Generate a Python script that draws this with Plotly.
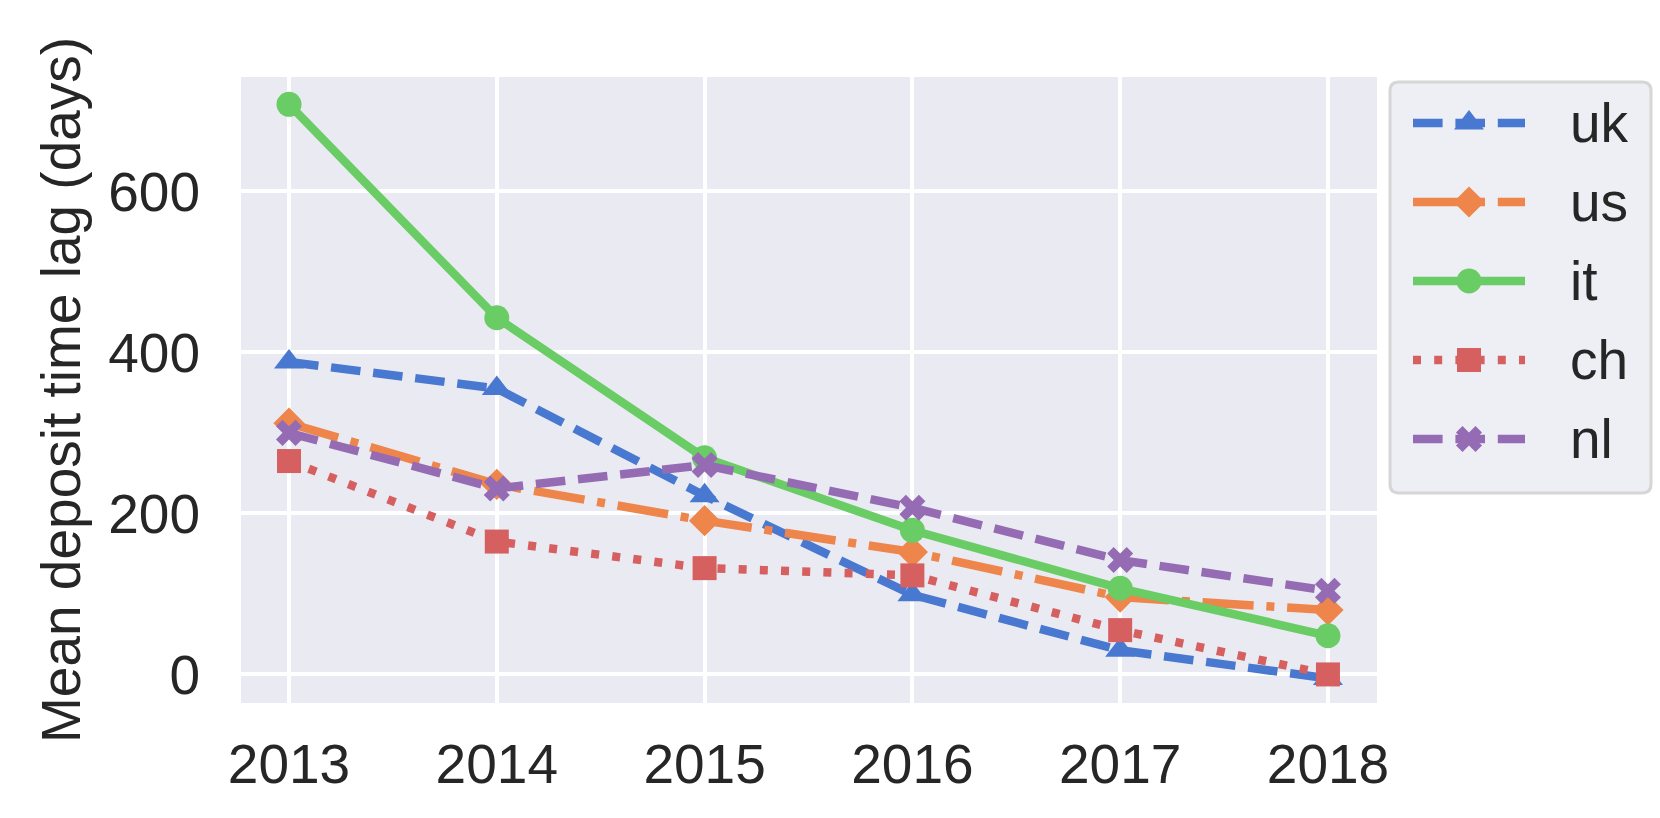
import plotly.graph_objects as go

# ---------------- data ----------------
years = [2013, 2014, 2015, 2016, 2017, 2018]
year_labels = ["2013", "2014", "2015", "2016", "2017", "2018"]
countries = ["uk", "us", "it", "ch", "nl"]
uk = [388, 355, 222, 99, 30, -5]
us = [312, 236, 191, 152, 96, 80]
it = [708, 443, 269, 179, 107, 48]
ch = [265, 165, 132, 123, 55, 0]
nl = [300, 231, 260, 207, 142, 104]
y_ticks = [0, 200, 400, 600]
y_title = "Mean deposit time lag (days)"

series = {"uk": uk, "us": us, "it": it, "ch": ch, "nl": nl}

# ---------------- styles ----------------
LW = 8.5      # drawn line width
PL = 8.0      # dash pattern unit
colors = {"uk": "#4878d0", "us": "#ee854a", "it": "#6acc64", "ch": "#d65f5f", "nl": "#956cb4"}
dashes = {
    "uk": f"{3.7*PL}px,{1.6*PL}px",
    "us": f"{6.4*PL}px,{1.6*PL}px,{1.0*PL}px,{1.6*PL}px",
    "it": "solid",
    "ch": f"{1.0*PL}px,{1.65*PL}px",
    "nl": f"{3.7*PL}px,{1.6*PL}px",
}
symbols = {"uk": "triangle-up", "us": "diamond", "it": "circle", "ch": "square", "nl": "x"}
msizes = {"uk": 26, "us": 24, "it": 25, "ch": 24, "nl": 23}

FONT = "Liberation Sans, Arial, sans-serif"
TXT = "#262626"
FS = 55

W, H = 1660, 818
ML, MR, MT, MB = 241, 9, 77, 115
PW = W - ML - MR      # paper width in px
PH = H - MT - MB      # paper height in px
PLOT_RIGHT = 1377     # right edge of main axes (px)


def px_x(p):
    return (p - ML) / PW


def px_y(p):
    return (H - MB - p) / PH


fig = go.Figure()

for c in countries:
    fig.add_trace(go.Scatter(
        x=years, y=series[c], name=c, mode="lines+markers",
        line=dict(color=colors[c], width=LW, dash=dashes[c]),
        marker=dict(symbol=symbols[c], size=msizes[c], color=colors[c], line=dict(width=0)),
        cliponaxis=False, showlegend=False,
        xaxis="x", yaxis="y",
    ))

# ---------------- custom legend (own axes, px units) ----------------
LEG_BOX = (1390, 82, 1651, 493)        # left, top, right, bottom
LEG_AX = (1400, 92, 1640, 483)
leg_top, leg_step = 123, 79
handle_x0, handle_x1 = 1413, 1525
text_x = 1568

for i, c in enumerate(countries):
    yy = leg_top + i * leg_step
    fig.add_trace(go.Scatter(
        x=[handle_x0, handle_x1], y=[yy, yy], mode="lines",
        line=dict(color=colors[c], width=LW, dash=dashes[c]),
        showlegend=False, hoverinfo="skip", cliponaxis=False,
        xaxis="x2", yaxis="y2",
    ))
    fig.add_trace(go.Scatter(
        x=[(handle_x0 + handle_x1) / 2], y=[yy], mode="markers",
        marker=dict(symbol=symbols[c], size=msizes[c], color=colors[c], line=dict(width=0)),
        showlegend=False, hoverinfo="skip", cliponaxis=False,
        xaxis="x2", yaxis="y2",
    ))
    fig.add_annotation(
        x=text_x, y=yy, xref="x2", yref="y2", text=c, showarrow=False,
        xanchor="left", yanchor="middle",
        font=dict(family=FONT, size=FS, color=TXT),
    )

# rounded legend frame (paper coords)
bx0, by0, bx1, by1 = px_x(LEG_BOX[0]), px_y(LEG_BOX[3]), px_x(LEG_BOX[2]), px_y(LEG_BOX[1])
rx, ry = 9 / PW, 9 / PH
path = (
    f"M {bx0+rx},{by0} L {bx1-rx},{by0} Q {bx1},{by0} {bx1},{by0+ry} "
    f"L {bx1},{by1-ry} Q {bx1},{by1} {bx1-rx},{by1} "
    f"L {bx0+rx},{by1} Q {bx0},{by1} {bx0},{by1-ry} "
    f"L {bx0},{by0+ry} Q {bx0},{by0} {bx0+rx},{by0} Z"
)
fig.add_shape(type="path", path=path, xref="paper", yref="paper",
              fillcolor="#eeeef5", line=dict(color="#d6d6d6", width=3), layer="below")

# y-axis title
fig.add_annotation(
    x=px_x(61), y=0.5, xref="paper", yref="paper", text=y_title, showarrow=False,
    textangle=-90, xanchor="center", yanchor="middle",
    font=dict(family=FONT, size=FS, color=TXT),
)

fig.update_layout(
    width=W, height=H, autosize=False,
    margin=dict(l=ML, r=MR, t=MT, b=MB, pad=0, autoexpand=False),
    paper_bgcolor="white", plot_bgcolor="#eaeaf2",
    font=dict(family=FONT, size=FS, color=TXT),
    showlegend=False,
    xaxis=dict(
        domain=[0, px_x(PLOT_RIGHT)], range=[2012.769, 2018.236],
        tickvals=years, ticktext=year_labels, automargin=False,
        showgrid=True, gridcolor="white", gridwidth=3.5, zeroline=False,
        ticks="outside", ticklen=13, tickcolor="rgba(0,0,0,0)",
        tickfont=dict(family=FONT, size=FS, color=TXT), showline=False,
    ),
    yaxis=dict(
        domain=[0, 1], range=[-35.5, 742],
        tickvals=y_ticks, ticktext=[str(v) for v in y_ticks], automargin=False,
        showgrid=True, gridcolor="white", gridwidth=3.5, zeroline=False,
        ticks="outside", ticklen=29, tickcolor="rgba(0,0,0,0)",
        tickfont=dict(family=FONT, size=FS, color=TXT), showline=False,
    ),
    xaxis2=dict(
        domain=[px_x(LEG_AX[0]), px_x(LEG_AX[2])], range=[LEG_AX[0], LEG_AX[2]],
        visible=False, anchor="y2", fixedrange=True, automargin=False,
    ),
    yaxis2=dict(
        domain=[px_y(LEG_AX[3]), px_y(LEG_AX[1])], range=[LEG_AX[3], LEG_AX[1]],
        visible=False, anchor="x2", fixedrange=True, automargin=False,
    ),
)

fig.write_html(
    "out.html",
    config={"displayModeBar": False},
    post_script="document.body.style.margin='0';document.body.style.padding='0';"
                "document.body.style.overflow='hidden';",
)
